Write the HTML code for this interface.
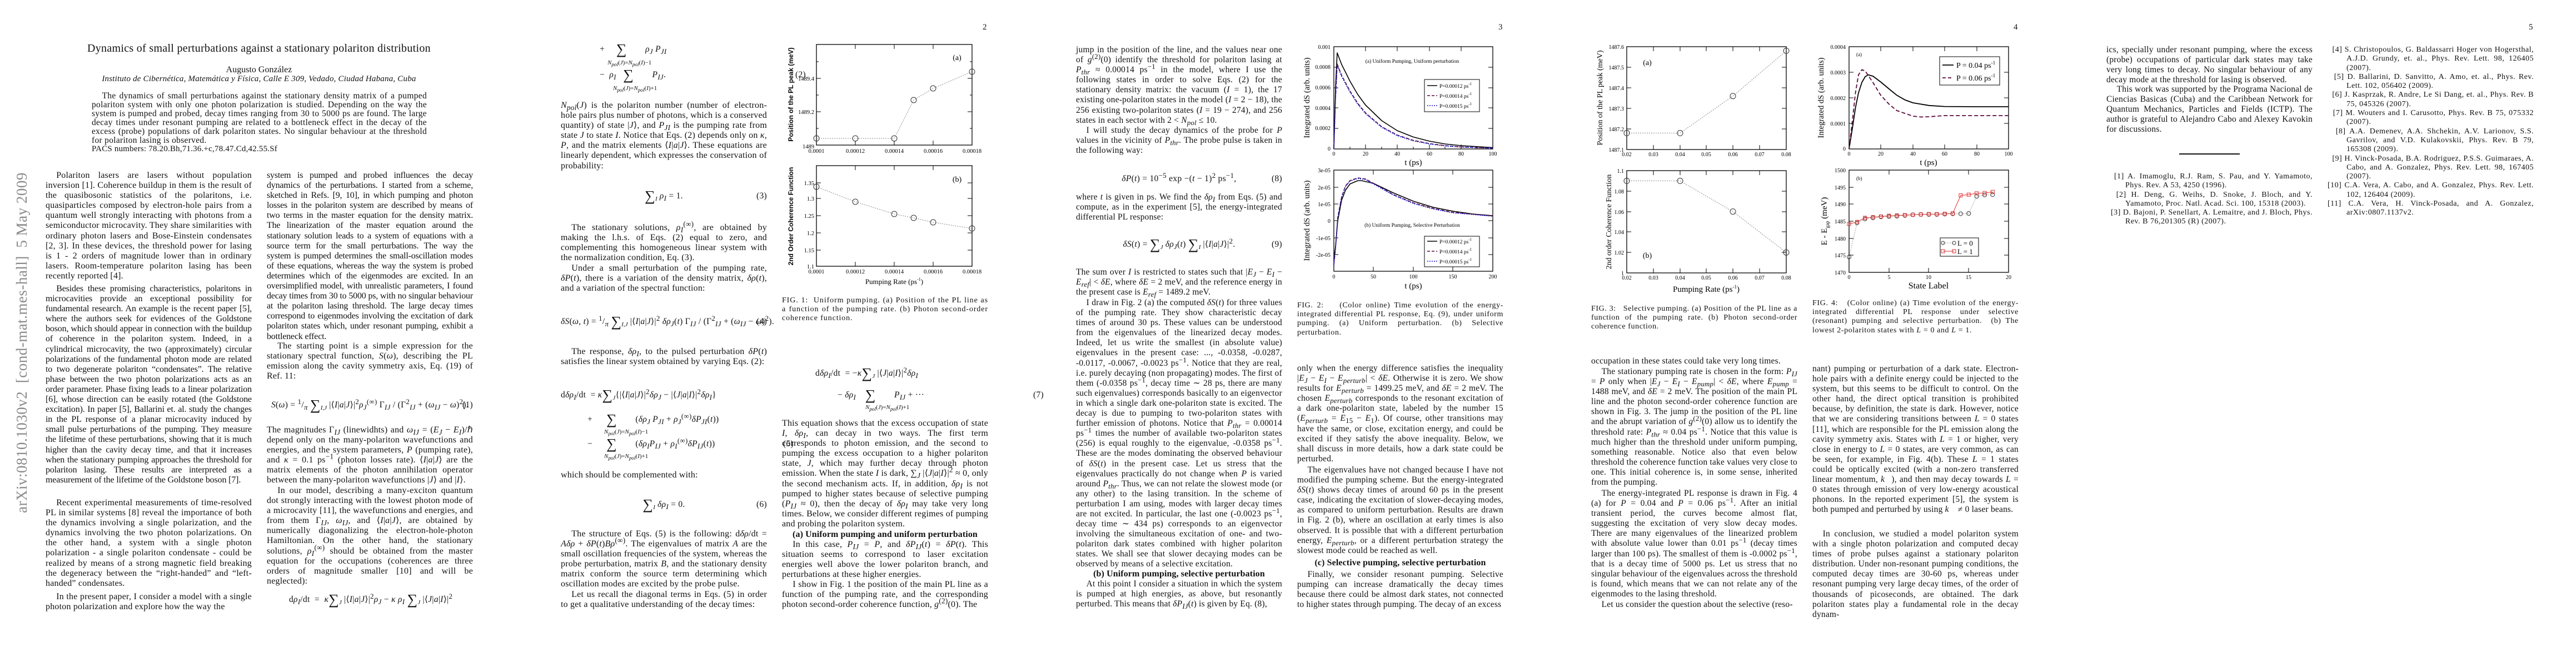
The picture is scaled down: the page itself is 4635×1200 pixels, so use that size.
<!DOCTYPE html>
<html lang="en"><head><meta charset="utf-8">
<style>
html,body{margin:0;padding:0;background:#fff}
body{width:4635px;height:1200px;position:relative;overflow:hidden;font-family:"Liberation Serif",serif;color:#111}
sub,sup{line-height:0}
.c{position:absolute;width:371px;font-size:16px;letter-spacing:0.2px;line-height:18.1px;text-align:justify;hyphens:auto;-webkit-hyphens:auto;margin:0}
.c.w{font-size:15.5px;letter-spacing:0.2px}
.i{text-indent:1.2em}
.eq{position:absolute;width:371px;font-size:15.5px;letter-spacing:0.3px;line-height:18px;text-align:center;white-space:nowrap}
.en{position:absolute;right:0;top:0}
.s{font-size:26px;vertical-align:-4px}
.sm{font-size:11px;letter-spacing:0}
.pn{position:absolute;font-size:15px}
.h{font-weight:bold;font-size:16px;letter-spacing:0.1px}
.cap{position:absolute;width:371px;font-size:14px;letter-spacing:0.6px;line-height:16.2px;text-align:justify;hyphens:auto;-webkit-hyphens:auto}
.cap.n{letter-spacing:0.9px}
.ref{position:absolute;width:371px;font-size:14px;letter-spacing:0.5px;line-height:16.3px;text-align:justify;hyphens:auto}
.ref div{padding-left:34px;text-indent:-34px}
svg text{font-family:"Liberation Serif",serif}
</style></head><body>

<div style="position:absolute;left:24px;top:923px;transform-origin:0 0;transform:rotate(-90deg);font-size:27px;color:#8a8a8a;white-space:nowrap;letter-spacing:0.5px">arXiv:0810.1030v2&nbsp; [cond-mat.mes-hall]&nbsp; 5 May 2009</div>

<!-- ============ PAGE 1 ============ -->
<div style="position:absolute;left:82px;width:768px;top:76px;text-align:center;font-size:20px;letter-spacing:0.3px">Dynamics of small perturbations against a stationary polariton distribution</div>
<div style="position:absolute;left:82px;width:768px;top:117px;text-align:center;font-size:16px">Augusto González</div>
<div style="position:absolute;left:82px;width:768px;top:134px;text-align:center;font-size:15px;font-style:italic;letter-spacing:0.2px">Instituto de Cibernética, Matemática y Física, Calle E 309, Vedado, Ciudad Habana, Cuba</div>
<div style="position:absolute;left:165px;width:603px;top:165px;font-size:15.5px;letter-spacing:0.3px;line-height:16px;text-align:justify;text-indent:1.2em;hyphens:auto">The dynamics of small perturbations against the stationary density matrix of a pumped polariton system with only one photon polarization is studied. Depending on the way the system is pumped and probed, decay times ranging from 30 to 5000 ps are found. The large decay times under resonant pumping are related to a bottleneck effect in the decay of the excess (probe) populations of dark polariton states. No singular behaviour at the threshold for polariton lasing is observed.</div>
<div style="position:absolute;left:165px;top:260px;font-size:15px;letter-spacing:0.2px">PACS numbers: 78.20.Bh,71.36.+c,78.47.Cd,42.55.Sf</div>

<p class="c i" style="left:82px;top:307px">Polariton lasers are lasers without population inversion [1]. Coherence buildup in them is the result of the quasibosonic statistics of the polaritons, i.e. quasiparticles composed by electron-hole pairs from a quantum well strongly interacting with photons from a semiconductor microcavity. They share similarities with ordinary photon lasers and Bose-Einstein condensates [2, 3]. In these devices, the threshold power for lasing is 1 - 2 orders of magnitude lower than in ordinary lasers. Room-temperature polariton lasing has been recently reported [4].</p>
<p class="c i" style="left:82px;top:511px;letter-spacing:-0.15px">Besides these promising characteristics, polaritons in microcavities provide an exceptional possibility for fundamental research. An example is the recent paper [5], where the authors seek for evidences of the Goldstone boson, which should appear in connection with the buildup of coherence in the polariton system. Indeed, in a cylindrical microcavity, the two (approximately) circular polarizations of the fundamental photon mode are related to two degenerate polariton “condensates”. The relative phase between the two photon polarizations acts as an order parameter. Phase fixing leads to a linear polarization [6], whose direction can be easily rotated (the Goldstone excitation). In paper [5], Ballarini et. al. study the changes in the PL response of a planar microcavity induced by small pulse perturbations of the pumping. They measure the lifetime of these perturbations, showing that it is much higher than the cavity decay time, and that it increases when the stationary pumping approaches the threshold for polariton lasing. These results are interpreted as a measurement of the lifetime of the Goldstone boson [7].</p>
<p class="c i" style="left:82px;top:896px">Recent experimental measurements of time-resolved PL in similar systems [8] reveal the importance of both the dynamics involving a single polarization, and the dynamics involving the two photon polarizations. On the other hand, a system with a single photon polarization - a single polariton condensate - could be realized by means of a strong magnetic field breaking the degeneracy between the “right-handed” and “left-handed” condensates.</p>
<p class="c i" style="left:82px;top:1065px">In the present paper, I consider a model with a single photon polarization and explore how the way the</p>

<p class="c" style="left:480px;top:307px;letter-spacing:-0.2px">system is pumped and probed influences the decay dynamics of the perturbations. I started from a scheme, sketched in Refs. [9, 10], in which pumping and photon losses in the polariton system are described by means of two terms in the master equation for the density matrix. The linearization of the master equation around the stationary solution leads to a system of equations with a source term for the small perturbations. The way the system is pumped determines the small-oscillation modes of these equations, whereas the way the system is probed determines which of the eigenmodes are excited. In an oversimplified model, with unrealistic parameters, I found decay times from 30 to 5000 ps, with no singular behaviour at the polariton lasing threshold. The large decay times correspond to eigenmodes involving the excitation of dark polariton states which, under resonant pumping, exhibit a bottleneck effect.</p>
<p class="c i" style="left:480px;top:614px">The starting point is a simple expression for the stationary spectral function, <i>S</i>(<i>ω</i>), describing the PL emission along the cavity symmetry axis, Eq. (19) of Ref. 11:</p>
<div class="eq" style="left:480px;top:720px"><i>S</i>(<i>ω</i>) = <sup>1</sup>/<sub><i>π</i></sub> <span class="s">∑</span><sub class="sm"><i>I,J</i></sub> |⟨<i>I</i>|<i>a</i>|<i>J</i>⟩|<sup>2</sup><i>ρ</i><sub><i>J</i></sub><sup>(∞)</sup> Γ<sub><i>IJ</i></sub> / (Γ<sup>2</sup><sub><i>IJ</i></sub> + (<i>ω<sub>IJ</sub></i> − <i>ω</i>)<sup>2</sup>).<span class="en">(1)</span></div>
<p class="c" style="left:480px;top:765px">The magnitudes Γ<sub><i>IJ</i></sub> (linewidhts) and <i>ω<sub>IJ</sub></i> = (<i>E<sub>J</sub></i> − <i>E<sub>I</sub></i>)/ℏ depend only on the many-polariton wavefunctions and energies, and the system parameters, <i>P</i> (pumping rate), and <i>κ</i> = 0.1 ps<sup>−1</sup> (photon losses rate). ⟨<i>I</i>|<i>a</i>|<i>J</i>⟩ are the matrix elements of the photon annihilation operator between the many-polariton wavefunctions |<i>J</i>⟩ and |<i>I</i>⟩.</p>
<p class="c i" style="left:480px;top:874px">In our model, describing a many-exciton quantum dot strongly interacting with the lowest photon mode of a microcavity [11], the wavefunctions and energies, and from them Γ<sub><i>IJ</i></sub>, <i>ω<sub>IJ</sub></i>, and ⟨<i>I</i>|<i>a</i>|<i>J</i>⟩, are obtained by numerically diagonalizing the electron-hole-photon Hamiltonian. On the other hand, the stationary solutions, <i>ρ</i><sub><i>I</i></sub><sup>(∞)</sup> should be obtained from the master equation for the occupations (coherences are three orders of magnitude smaller [10] and will be neglected):</p>
<div class="eq" style="left:480px;top:1070px;text-align:left;padding-left:40px">d<i>ρ<sub>I</sub></i>/dt &nbsp;= &nbsp;<i>κ</i><span class="s">∑</span><sub class="sm"><i>J</i></sub> |⟨<i>I</i>|<i>a</i>|<i>J</i>⟩|<sup>2</sup><i>ρ<sub>J</sub></i> − <i>κ ρ<sub>I</sub></i> <span class="s">∑</span><sub class="sm"><i>J</i></sub> |⟨<i>J</i>|<i>a</i>|<i>I</i>⟩|<sup>2</sup></div>

<!-- ============ PAGE 2 ============ -->
<div class="pn" style="left:1768px;top:41px">2</div>
<div class="eq" style="left:1009px;top:80px;text-align:left;padding-left:70px">+ &nbsp;&nbsp;&nbsp;&nbsp;<span class="s">∑</span> &nbsp;&nbsp;&nbsp;&nbsp;&nbsp;&nbsp;&nbsp;<i>ρ<sub>J</sub> P<sub>JI</sub></i></div>
<div class="eq sm" style="left:1009px;top:104px;text-align:left;padding-left:84px;font-size:11px"><i>N<sub>pol</sub></i>(<i>J</i>)=<i>N<sub>pol</sub></i>(<i>I</i>)−1</div>
<div class="eq" style="left:1009px;top:126px;text-align:left;padding-left:70px">− &nbsp;<i>ρ<sub>I</sub></i> &nbsp;&nbsp;<span class="s">∑</span> &nbsp;&nbsp;&nbsp;&nbsp;&nbsp;&nbsp;&nbsp;<i>P<sub>IJ</sub></i>.<span class="en">(2)</span></div>
<div class="eq sm" style="left:1009px;top:150px;text-align:left;padding-left:94px;font-size:11px"><i>N<sub>pol</sub></i>(<i>J</i>)=<i>N<sub>pol</sub></i>(<i>I</i>)+1</div>
<p class="c" style="left:1009px;top:181px"><i>N<sub>pol</sub></i>(<i>J</i>) is the polariton number (number of electron-hole pairs plus number of photons, which is a conserved quantity) of state |<i>J</i>⟩, and <i>P<sub>JI</sub></i> is the pumping rate from state <i>J</i> to state <i>I</i>. Notice that Eqs. (2) depends only on <i>κ</i>, <i>P</i>, and the matrix elements ⟨<i>I</i>|<i>a</i>|<i>J</i>⟩. These equations are linearly dependent, which expresses the conservation of probability:</p>
<div class="eq" style="left:1009px;top:344px"><span class="s">∑</span><sub class="sm"><i>I</i></sub> <i>ρ<sub>I</sub></i> = 1.<span class="en">(3)</span></div>
<p class="c i" style="left:1009px;top:401px">The stationary solutions, <i>ρ</i><sub><i>I</i></sub><sup>(∞)</sup>, are obtained by making the l.h.s. of Eqs. (2) equal to zero, and complementing this homogeneous linear system with the normalization condition, Eq. (3).</p>
<p class="c i" style="left:1009px;top:474px">Under a small perturbation of the pumping rate, <i>δP</i>(<i>t</i>), there is a variation of the density matrix, <i>δρ</i>(<i>t</i>), and a variation of the spectral function:</p>
<div class="eq" style="left:1009px;top:570px"><i>δS</i>(<i>ω, t</i>) = <sup>1</sup>/<sub><i>π</i></sub> <span class="s">∑</span><sub class="sm"><i>I,J</i></sub> |⟨<i>I</i>|<i>a</i>|<i>J</i>⟩|<sup>2</sup> <i>δρ<sub>J</sub></i>(<i>t</i>) Γ<sub><i>IJ</i></sub> / (Γ<sup>2</sup><sub><i>IJ</i></sub> + (<i>ω<sub>IJ</sub></i> − <i>ω</i>)<sup>2</sup>).<span class="en">(4)</span></div>
<p class="c i" style="left:1009px;top:624px">The response, <i>δρ<sub>I</sub></i>, to the pulsed perturbation <i>δP</i>(<i>t</i>) satisfies the linear system obtained by varying Eqs. (2):</p>
<div class="eq" style="left:1009px;top:702px;text-align:left">d<i>δρ<sub>I</sub></i>/dt &nbsp;= <i>κ</i><span class="s">∑</span><sub class="sm"><i>J</i></sub>{|⟨<i>I</i>|<i>a</i>|<i>J</i>⟩|<sup>2</sup><i>δρ<sub>J</sub></i> − |⟨<i>J</i>|<i>a</i>|<i>I</i>⟩|<sup>2</sup><i>δρ<sub>I</sub></i>}</div>
<div class="eq" style="left:1009px;top:746px;text-align:left;padding-left:48px">+ &nbsp;&nbsp;&nbsp;&nbsp;&nbsp;<span class="s">∑</span> &nbsp;&nbsp;&nbsp;&nbsp;&nbsp;&nbsp;&nbsp;(<i>δρ<sub>J</sub> P<sub>JI</sub></i> + <i>ρ</i><sub><i>J</i></sub><sup>(∞)</sup><i>δP<sub>JI</sub></i>(<i>t</i>))</div>
<div class="eq" style="left:1009px;top:768px;text-align:left;padding-left:78px;font-size:11px;letter-spacing:0"><i>N<sub>pol</sub></i>(<i>J</i>)=<i>N<sub>pol</sub></i>(<i>I</i>)−1</div>
<div class="eq" style="left:1009px;top:790px;text-align:left;padding-left:48px">− &nbsp;&nbsp;&nbsp;&nbsp;&nbsp;<span class="s">∑</span> &nbsp;&nbsp;&nbsp;&nbsp;&nbsp;&nbsp;&nbsp;(<i>δρ<sub>I</sub>P<sub>IJ</sub></i> + <i>ρ</i><sub><i>I</i></sub><sup>(∞)</sup><i>δP<sub>IJ</sub></i>(<i>t</i>))<span class="en">(5)</span></div>
<div class="eq" style="left:1009px;top:812px;text-align:left;padding-left:78px;font-size:11px;letter-spacing:0"><i>N<sub>pol</sub></i>(<i>J</i>)=<i>N<sub>pol</sub></i>(<i>I</i>)+1</div>
<p class="c" style="left:1009px;top:846px">which should be complemented with:</p>
<div class="eq" style="left:1009px;top:899px"><span class="s">∑</span><sub class="sm"><i>I</i></sub> <i>δρ<sub>I</sub></i> = 0.<span class="en">(6)</span></div>
<p class="c i" style="left:1009px;top:952px">The structure of Eqs. (5) is the following: d<i>δρ</i>/dt = <i>Aδρ</i> + <i>δP</i>(<i>t</i>)<i>Bρ</i><sup>(∞)</sup>. The eigenvalues of matrix <i>A</i> are the small oscillation frequencies of the system, whereas the probe perturbation, matrix <i>B</i>, and the stationary density matrix conform the source term determining which oscillation modes are excited by the probe pulse.</p>
<p class="c i" style="left:1009px;top:1061px">Let us recall the diagonal terms in Eqs. (5) in order to get a qualitative understanding of the decay times:</p>

<div class="cap n" style="left:1407px;top:533px">FIG. 1: &nbsp;Uniform pumping. (a) Position of the PL line as a function of the pumping rate. (b) Photon second-order coherence function.</div>
<div class="eq" style="left:1407px;top:663px;text-align:left;padding-left:60px">d<i>δρ<sub>I</sub></i>/dt &nbsp;= −<i>κ</i><span class="s">∑</span><sub class="sm"><i>J</i></sub> |⟨<i>J</i>|<i>a</i>|<i>I</i>⟩|<sup>2</sup><i>δρ<sub>I</sub></i></div>
<div class="eq" style="left:1407px;top:702px;text-align:left;padding-left:100px">− <i>δρ<sub>I</sub></i> &nbsp;&nbsp;&nbsp;<span class="s">∑</span> &nbsp;&nbsp;&nbsp;&nbsp;&nbsp;&nbsp;&nbsp;<i>P<sub>IJ</sub></i> + ···<span class="en">(7)</span></div>
<div class="eq" style="left:1407px;top:724px;text-align:left;padding-left:150px;font-size:11px;letter-spacing:0"><i>N<sub>pol</sub></i>(<i>J</i>)=<i>N<sub>pol</sub></i>(<i>I</i>)+1</div>
<p class="c" style="left:1407px;top:753px">This equation shows that the excess occupation of state <i>I</i>, <i>δρ<sub>I</sub></i>, can decay in two ways. The first term corresponds to photon emission, and the second to pumping the excess occupation to a higher polariton state, <i>J</i>, which may further decay through photon emission. When the state <i>I</i> is dark, ∑<sub><i>J</i></sub> |⟨<i>J</i>|<i>a</i>|<i>I</i>⟩|<sup>2</sup> ≈ 0, only the second mechanism acts. If, in addition, <i>δρ<sub>I</sub></i> is not pumped to higher states because of selective pumping (<i>P<sub>IJ</sub></i> ≈ 0), then the decay of <i>δρ<sub>I</sub></i> may take very long times. Below, we consider different regimes of pumping and probing the polariton system.</p>
<div class="c h" style="left:1407px;top:953px;text-align:center">(a) Uniform pumping and uniform perturbation</div>
<p class="c i" style="left:1407px;top:971px">In this case, <i>P<sub>IJ</sub></i> = <i>P</i>, and <i>δP<sub>IJ</sub></i>(<i>t</i>) = <i>δP</i>(<i>t</i>). This situation seems to correspond to laser excitation energies well above the lower polariton branch, and perturbations at these higher energies.</p>
<p class="c i" style="left:1407px;top:1043px">I show in Fig. 1 the position of the main PL line as a function of the pumping rate, and the corresponding photon second-order coherence function, <i>g</i><sup>(2)</sup>(0). The</p>

<!-- ============ PAGE 3 ============ -->
<div class="pn" style="left:2696px;top:41px">3</div>
<p class="c w" style="left:1936px;top:81px">jump in the position of the line, and the values near one of <i>g</i><sup>(2)</sup>(0) identify the threshold for polariton lasing at <i>P<sub>thr</sub></i> ≈ 0.00014 ps<sup>−1</sup> in the model, where I use the following states in order to solve Eqs. (2) for the stationary density matrix: the vacuum (<i>I</i> = 1), the 17 existing one-polariton states in the model (<i>I</i> = 2 − 18), the 256 existing two-polariton states (<i>I</i> = 19 − 274), and 256 states in each sector with 2 &lt; <i>N<sub>pol</sub></i> ≤ 10.</p>
<p class="c w i" style="left:1936px;top:226px">I will study the decay dynamics of the probe for <i>P</i> values in the vicinity of <i>P<sub>thr</sub></i>. The probe pulse is taken in the following way:</p>
<div class="eq" style="left:1936px;top:313px"><i>δP</i>(<i>t</i>) = 10<sup>−5</sup> exp −(<i>t</i> − 1)<sup>2</sup> ps<sup>−1</sup>,<span class="en">(8)</span></div>
<p class="c w" style="left:1936px;top:346px">where <i>t</i> is given in ps. We find the <i>δρ<sub>I</sub></i> from Eqs. (5) and compute, as in the experiment [5], the energy-integrated differential PL response:</p>
<div class="eq" style="left:1936px;top:431px"><i>δS</i>(<i>t</i>) = <span class="s">∑</span><sub class="sm"><i>J</i></sub> <i>δρ<sub>J</sub></i>(<i>t</i>) <span class="s">∑</span><sub class="sm"><i>I</i></sub> |⟨<i>I</i>|<i>a</i>|<i>J</i>⟩|<sup>2</sup>.<span class="en">(9)</span></div>
<p class="c w" style="left:1936px;top:481px">The sum over <i>I</i> is restricted to states such that |<i>E<sub>J</sub></i> − <i>E<sub>I</sub></i> − <i>E<sub>ref</sub></i>| &lt; <i>δE</i>, where <i>δE</i> = 2 meV, and the reference energy in the present case is <i>E<sub>ref</sub></i> = 1489.2 meV.</p>
<p class="c w i" style="left:1936px;top:536px">I draw in Fig. 2 (a) the computed <i>δS</i>(<i>t</i>) for three values of the pumping rate. They show characteristic decay times of around 30 ps. These values can be understood from the eigenvalues of the linearized decay modes. Indeed, let us write the smallest (in absolute value) eigenvalues in the present case: ..., -0.0358, -0.0287, -0.0117, -0.0067, -0.0023 ps<sup>−1</sup>. Notice that they are real, i.e. purely decaying (non propagating) modes. The first of them (-0.0358 ps<sup>−1</sup>, decay time ∼ 28 ps, there are many such eigenvalues) corresponds basically to an eigenvector in which a single dark one-polariton state is excited. The decay is due to pumping to two-polariton states with further emission of photons. Notice that <i>P<sub>thr</sub></i> = 0.00014 ps<sup>−1</sup> times the number of available two-polariton states (256) is equal roughly to the eigenvalue, -0.0358 ps<sup>−1</sup>. These are the modes dominating the observed behaviour of <i>δS</i>(<i>t</i>) in the present case. Let us stress that the eigenvalues practically do not change when <i>P</i> is varied around <i>P<sub>thr</sub></i>. Thus, we can not relate the slowest mode (or any other) to the lasing transition. In the scheme of perturbation I am using, modes with larger decay times are not excited. In particular, the last one (-0.0023 ps<sup>−1</sup>, decay time ∼ 434 ps) corresponds to an eigenvector involving the simultaneous excitation of one- and two-polariton dark states combined with higher polariton states. We shall see that slower decaying modes can be observed by means of a selective excitation.</p>
<div class="c h" style="left:1936px;top:1024px;text-align:center">(b) Uniform pumping, selective perturbation</div>
<p class="c w i" style="left:1936px;top:1042px">At this point I consider a situation in which the system is pumped at high energies, as above, but resonantly perturbed. This means that <i>δP<sub>IJ</sub></i>(<i>t</i>) is given by Eq. (8),</p>

<div class="cap" style="left:2334px;top:542px">FIG. 2: &nbsp;&nbsp;&nbsp;(Color online) Time evolution of the energy-integrated differential PL response, Eq. (9), under uniform pumping. (a) Uniform perturbation. (b) Selective perturbation.</div>
<p class="c w" style="left:2334px;top:654px">only when the energy difference satisfies the inequality |<i>E<sub>J</sub></i> − <i>E<sub>I</sub></i> − <i>E<sub>perturb</sub></i>| &lt; <i>δE</i>. Otherwise it is zero. We show results for <i>E<sub>perturb</sub></i> = 1499.25 meV, and <i>δE</i> = 2 meV. The chosen <i>E<sub>perturb</sub></i> corresponds to the resonant excitation of a dark one-polariton state, labeled by the number 15 (<i>E<sub>perturb</sub></i> = <i>E</i><sub>15</sub> − <i>E</i><sub>1</sub>). Of course, other transitions may have the same, or close, excitation energy, and could be excited if they satisfy the above inequality. Below, we shall discuss in more details, how a dark state could be perturbed.</p>
<p class="c w i" style="left:2334px;top:837px">The eigenvalues have not changed because I have not modified the pumping scheme. But the energy-integrated <i>δS</i>(<i>t</i>) shows decay times of around 60 ps in the present case, indicating the excitation of slower-decaying modes, as compared to uniform perturbation. Results are drawn in Fig. 2 (b), where an oscillation at early times is also observed. It is possible that with a different perturbation energy, <i>E<sub>perturb</sub></i>, or a different perturbation strategy the slowest mode could be reached as well.</p>
<div class="c h" style="left:2334px;top:1004px;text-align:center">(c) Selective pumping, selective perturbation</div>
<p class="c w i" style="left:2334px;top:1025px">Finally, we consider resonant pumping. Selective pumping can increase dramatically the decay times because there could be almost dark states, not connected to higher states through pumping. The decay of an excess</p>

<!-- ============ PAGE 4 ============ -->
<div class="pn" style="left:3623px;top:41px">4</div>
<div class="cap" style="left:2863px;top:548px">FIG. 3: &nbsp;&nbsp;Selective pumping. (a) Position of the PL line as a function of the pumping rate. (b) Photon second-order coherence function.</div>
<p class="c w" style="left:2863px;top:641px">occupation in these states could take very long times.</p>
<p class="c w i" style="left:2863px;top:660px">The stationary pumping rate is chosen in the form: <i>P<sub>IJ</sub></i> = <i>P</i> only when |<i>E<sub>J</sub></i> − <i>E<sub>I</sub></i> − <i>E<sub>pump</sub></i>| &lt; <i>δE</i>, where <i>E<sub>pump</sub></i> = 1488 meV, and <i>δE</i> = 2 meV. The position of the main PL line and the photon second-order coherence function are shown in Fig. 3. The jump in the position of the PL line and the abrupt variation of <i>g</i><sup>(2)</sup>(0) allow us to identify the threshold rate: <i>P<sub>thr</sub></i> ≈ 0.04 ps<sup>−1</sup>. Notice that this value is much higher than the threshold under uniform pumping, something reasonable. Notice also that even below threshold the coherence function take values very close to one. This initial coherence is, in some sense, inherited from the pumping.</p>
<p class="c w i" style="left:2863px;top:879px">The energy-integrated PL response is drawn in Fig. 4 (a) for <i>P</i> = 0.04 and <i>P</i> = 0.06 ps<sup>−1</sup>. After an initial transient period, the curves become almost flat, suggesting the excitation of very slow decay modes. There are many eigenvalues of the linearized problem with absolute value lower than 0.01 ps<sup>−1</sup> (decay times larger than 100 ps). The smallest of them is -0.0002 ps<sup>−1</sup>, that is a decay time of 5000 ps. Let us stress that no singular behaviour of the eigenvalues across the threshold is found, which means that we can not relate any of the eigenmodes to the lasing threshold.</p>
<p class="c w i" style="left:2863px;top:1079px">Let us consider the question about the selective (reso-</p>

<div class="cap" style="left:3261px;top:538px">FIG. 4: &nbsp;&nbsp;(Color online) (a) Time evolution of the energy-integrated differential PL response under selective (resonant) pumping and selective perturbation. &nbsp;(b) The lowest 2-polariton states with <i>L</i> = 0 and <i>L</i> = 1.</div>
<p class="c w" style="left:3261px;top:655px">nant) pumping or perturbation of a dark state. Electron-hole pairs with a definite energy could be injected to the system, but this seems to be difficult to control. On the other hand, the direct optical transition is prohibited because, by definition, the state is dark. However, notice that we are considering transitions between <i>L</i> = 0 states [11], which are responsible for the PL emission along the cavity symmetry axis. States with <i>L</i> = 1 or higher, very close in energy to <i>L</i> = 0 states, are very common, as can be seen, for example, in Fig. 4(b). These <i>L</i> = 1 states could be optically excited (with a non-zero transferred linear momentum, <i>k⃗</i>), and then may decay towards <i>L</i> = 0 states through emission of very low-energy acoustical phonons. In the reported experiment [5], the system is both pumped and perturbed by using <i>k⃗</i> ≠ 0 laser beans.</p>
<p class="c w i" style="left:3261px;top:952px">In conclusion, we studied a model polariton system with a single photon polarization and computed decay times of probe pulses against a stationary polariton distribution. Under non-resonant pumping conditions, the computed decay times are 30-60 ps, whereas under resonant pumping very large decay times, of the order of thousands of picoseconds, are obtained. The dark polariton states play a fundamental role in the decay dynam-</p>

<!-- ============ PAGE 5 ============ -->
<div class="pn" style="left:4550px;top:41px">5</div>
<p class="c w" style="left:3790px;top:81px">ics, specially under resonant pumping, where the excess (probe) occupations of particular dark states may take very long times to decay. No singular behaviour of any decay mode at the threshold for lasing is observed.</p>
<p class="c w i" style="left:3790px;top:152px">This work was supported by the Programa Nacional de Ciencias Basicas (Cuba) and the Caribbean Network for Quantum Mechanics, Particles and Fields (ICTP). The author is grateful to Alejandro Cabo and Alexey Kavokin for discussions.</p>
<div style="position:absolute;left:3921px;top:276px;width:109px;height:1.5px;background:#111"></div>
<div class="ref" style="left:3790px;top:310px">
<div>&nbsp;&nbsp;[1] A. Imamoglu, R.J. Ram, S. Pau, and Y. Yamamoto, Phys. Rev. A 53, 4250 (1996).</div>
<div>&nbsp;&nbsp;[2] H. Deng, G. Weihs, D. Snoke, J. Bloch, and Y. Yamamoto, Proc. Natl. Acad. Sci. 100, 15318 (2003).</div>
<div>&nbsp;&nbsp;[3] D. Bajoni, P. Senellart, A. Lemaitre, and J. Bloch, Phys. Rev. B 76,201305 (R) (2007).</div>
</div>
<div class="ref" style="left:4188px;top:82px">
<div>&nbsp;&nbsp;[4] S. Christopoulos, G. Baldassarri Hoger von Hogersthal, A.J.D. Grundy, et. al., Phys. Rev. Lett. 98, 126405 (2007).</div>
<div>&nbsp;&nbsp;[5] D. Ballarini, D. Sanvitto, A. Amo, et. al., Phys. Rev. Lett. 102, 056402 (2009).</div>
<div>&nbsp;&nbsp;[6] J. Kasprzak, R. Andre, Le Si Dang, et. al., Phys. Rev. B 75, 045326 (2007).</div>
<div>&nbsp;&nbsp;[7] M. Wouters and I. Carusotto, Phys. Rev. B 75, 075332 (2007).</div>
<div>&nbsp;&nbsp;[8] A.A. Demenev, A.A. Shchekin, A.V. Larionov, S.S. Gavrilov, and V.D. Kulakovskii, Phys. Rev. B 79, 165308 (2009).</div>
<div>&nbsp;&nbsp;[9] H. Vinck-Posada, B.A. Rodriguez, P.S.S. Guimaraes, A. Cabo, and A. Gonzalez, Phys. Rev. Lett. 98, 167405 (2007).</div>
<div>[10] C.A. Vera, A. Cabo, and A. Gonzalez, Phys. Rev. Lett. 102, 126404 (2009).</div>
<div>[11] C.A. Vera, H. Vinck-Posada, and A. Gonzalez, arXiv:0807.1137v2.</div>
</div>

<!-- ============ FIGURES ============ -->
<svg style="position:absolute;left:0;top:0" width="4635" height="1200" viewBox="0 0 4635 1200">
<g fill="none" stroke="#000" stroke-width="1.3">
<rect x="1469" y="80" width="280" height="181"/>
<rect x="1469" y="298" width="280" height="181"/>
<rect x="2400" y="84" width="286" height="184"/>
<rect x="2400" y="306" width="286" height="182"/>
<rect x="2927" y="84" width="287" height="185"/>
<rect x="2927" y="307" width="287" height="184"/>
<rect x="3327" y="84" width="287" height="184"/>
<rect x="3327" y="306" width="287" height="184"/>
</g>
<g stroke="#000" stroke-width="1">
<path d="M1539 261v-8M1609 261v-8M1679 261v-8M1539 80v8M1609 80v8M1679 80v8M1469 201h8M1469 141h8M1749 201h-8M1749 141h-8M1469 231h4M1469 171h4M1469 111h4M1749 231h-4M1749 171h-4M1749 111h-4"/>
<path d="M1539 479v-8M1609 479v-8M1679 479v-8M1539 298v8M1609 298v8M1679 298v8M1469 450h8M1469 419h8M1469 388h8M1469 357h8M1469 329h8M1749 450h-8M1749 419h-8M1749 388h-8M1749 357h-8M1749 329h-8"/>
<path d="M2457 268v-8M2514 268v-8M2572 268v-8M2629 268v-8M2457 84v8M2514 84v8M2572 84v8M2629 84v8M2400 231h8M2400 194h8M2400 158h8M2400 121h8M2686 231h-8M2686 194h-8M2686 158h-8M2686 121h-8M2429 268v-4M2486 268v-4M2543 268v-4M2600 268v-4M2657 268v-4"/>
<path d="M2471 488v-8M2543 488v-8M2614 488v-8M2471 306v8M2543 306v8M2614 306v8M2400 458h8M2400 428h8M2400 397h8M2400 367h8M2400 337h8M2686 458h-8M2686 428h-8M2686 397h-8M2686 367h-8M2686 337h-8"/>
<path d="M2975 269v-8M3023 269v-8M3070 269v-8M3118 269v-8M3166 269v-8M2975 84v8M3023 84v8M3070 84v8M3118 84v8M3166 84v8M2927 232h8M2927 195h8M2927 158h8M2927 121h8M3214 232h-8M3214 195h-8M3214 158h-8M3214 121h-8"/>
<path d="M2975 491v-8M3023 491v-8M3070 491v-8M3118 491v-8M3166 491v-8M2975 307v8M3023 307v8M3070 307v8M3118 307v8M3166 307v8M2927 454h8M2927 417h8M2927 381h8M2927 344h8M3214 454h-8M3214 417h-8M3214 381h-8M3214 344h-8"/>
<path d="M3384 268v-8M3442 268v-8M3499 268v-8M3557 268v-8M3384 84v8M3442 84v8M3499 84v8M3557 84v8M3327 222h8M3327 176h8M3327 130h8M3614 222h-8M3614 176h-8M3614 130h-8"/>
<path d="M3399 490v-8M3470 490v-8M3542 490v-8M3399 306v8M3470 306v8M3542 306v8M3327 459h8M3327 429h8M3327 398h8M3327 367h8M3327 337h8M3614 459h-8M3614 429h-8M3614 398h-8M3614 367h-8M3614 337h-8"/>
</g>

<g font-size="10.5" text-anchor="middle">
<text x="1469" y="275">0.0001</text><text x="1539" y="275">0.00012</text><text x="1609" y="275">0.00014</text><text x="1679" y="275">0.00016</text><text x="1749" y="275">0.00018</text>
<text x="1469" y="492">0.0001</text><text x="1539" y="492">0.00012</text><text x="1609" y="492">0.00014</text><text x="1679" y="492">0.00016</text><text x="1749" y="492">0.00018</text>
</g>
<g font-size="10.5" text-anchor="end">
<text x="1465" y="145">1489.4</text><text x="1465" y="205">1489.2</text><text x="1465" y="267">1489</text>
<text x="1465" y="333">1.35</text><text x="1465" y="361">1.3</text><text x="1465" y="392">1.25</text><text x="1465" y="423">1.2</text><text x="1465" y="454">1.15</text><text x="1465" y="483">1.1</text>
</g>
<text x="1722" y="108" font-size="14" text-anchor="middle">(a)</text>
<text x="1722" y="327" font-size="14" text-anchor="middle">(b)</text>
<text transform="translate(1427,170) rotate(-90)" font-weight="bold" font-size="12" text-anchor="middle" style="font-family:'Liberation Sans',sans-serif">Position of the PL peak (meV)</text>
<text transform="translate(1427,389) rotate(-90)" font-weight="bold" font-size="12" text-anchor="middle" style="font-family:'Liberation Sans',sans-serif">2nd Order Coherence Function</text>
<text x="1609" y="511" font-size="13" text-anchor="middle">Pumping Rate (ps<tspan font-size="8" dy="-6">-1</tspan><tspan dy="6">)</tspan></text>
<g fill="none" stroke="#888" stroke-width="1" stroke-dasharray="2,2">
<polyline points="1469,249 1539,249 1609,249 1644,180 1679,159 1749,129"/>
<polyline points="1469,336 1539,363 1609,385 1644,392 1679,400 1749,411"/>
</g>
<g fill="none" stroke="#333" stroke-width="1">
<circle cx="1469" cy="249" r="5"/><circle cx="1539" cy="249" r="5"/><circle cx="1609" cy="249" r="5"/><circle cx="1644" cy="180" r="5"/><circle cx="1679" cy="159" r="5"/><circle cx="1749" cy="129" r="5"/>
<circle cx="1469" cy="336" r="5"/><circle cx="1539" cy="363" r="5"/><circle cx="1609" cy="385" r="5"/><circle cx="1644" cy="392" r="5"/><circle cx="1679" cy="400" r="5"/><circle cx="1749" cy="411" r="5"/>
</g>

<g font-size="10" text-anchor="middle">
<text x="2400" y="280">0</text><text x="2457" y="280">20</text><text x="2514" y="280">40</text><text x="2572" y="280">60</text><text x="2629" y="280">80</text><text x="2686" y="280">100</text>
<text x="2400" y="501">0</text><text x="2471" y="501">50</text><text x="2543" y="501">100</text><text x="2614" y="501">150</text><text x="2686" y="501">200</text>
</g>
<g font-size="10" text-anchor="end">
<text x="2394" y="88">0.001</text><text x="2394" y="124">0.0008</text><text x="2394" y="161">0.0006</text><text x="2394" y="198">0.0004</text><text x="2394" y="234">0.0002</text><text x="2394" y="271">0</text>
<text x="2394" y="310">3e-05</text><text x="2394" y="341">2e-05</text><text x="2394" y="371">1e-05</text><text x="2394" y="401">0</text><text x="2394" y="432">-1e-05</text><text x="2394" y="462">-2e-05</text>
</g>
<text x="2543" y="297" font-size="15" text-anchor="middle">t (ps)</text>
<text x="2543" y="519" font-size="15" text-anchor="middle">t (ps)</text>
<text transform="translate(2356,176) rotate(-90)" font-size="14.5" text-anchor="middle">Integrated dS (arb. units)</text>
<text transform="translate(2356,397) rotate(-90)" font-size="14.5" text-anchor="middle">Integrated dS (arb. units)</text>
<text x="2541" y="113" font-size="9.5" text-anchor="middle">(a) Uniform Pumping, Uniform perturbation</text>
<text x="2541" y="408" font-size="9.5" text-anchor="middle">(b) Uniform Pumping, Selective Perturbation</text>
<g fill="none" stroke-width="1.6" stroke-linejoin="round">
<polyline stroke="#000" points="2400,268 2403,158 2406,95 2414,116 2429,146 2443,170 2457,189 2486,217 2514,235 2543,246.5 2572,254 2600,259 2629,262 2686,265.6"/>
<polyline stroke="#5a0a3c" stroke-dasharray="6,3" points="2400,268 2403,176 2406,115 2414,135.6 2429,163.7 2443,185.8 2457,203 2486,228 2514,243 2543,252.5 2572,258.3 2600,262 2629,264.3 2686,266.6"/>
<polyline stroke="#1a1acc" stroke-dasharray="2,2" points="2400,268 2403,178 2406,117 2414,137.5 2429,165.5 2443,187.5 2457,204.5 2486,229 2514,244 2543,253.5 2572,259 2600,262.5 2629,264.6 2686,266.8"/>
<polyline stroke="#000" points="2400,467 2403,443 2407,397 2414,360 2421,342 2429,331 2443,325 2450,325 2471.5,330 2507,347 2543,362 2579,373 2614.5,380 2650,385 2686,388"/>
<polyline stroke="#5a0a3c" stroke-dasharray="6,3" points="2400,476 2403,446 2407,391 2414,354 2421,334.5 2429,325 2443,320 2457,322 2471.5,330 2507,350 2543,365 2579,375 2614.5,382 2686,388.5"/>
<polyline stroke="#1a1acc" stroke-dasharray="2,2" points="2400,478 2403,448 2407,392 2414,355 2421,335.5 2429,326 2443,321 2457,323 2471.5,331 2507,351 2543,366 2579,376 2614.5,383 2686,389"/>
</g>
<g fill="#fff" stroke="#000" stroke-width="1"><rect x="2563" y="143" width="99" height="58"/><rect x="2563" y="425" width="99" height="55"/></g>
<g stroke-width="1.6">
<path d="M2568 154h18" stroke="#000"/><path d="M2568 172h18" stroke="#5a0a3c" stroke-dasharray="5,3"/><path d="M2568 190h18" stroke="#1a1acc" stroke-dasharray="2,2"/>
<path d="M2568 434h18" stroke="#000"/><path d="M2568 452h18" stroke="#5a0a3c" stroke-dasharray="5,3"/><path d="M2568 470h18" stroke="#1a1acc" stroke-dasharray="2,2"/>
</g>
<g font-size="9.5">
<text x="2590" y="158">P=0.00012 ps<tspan font-size="7" dy="-5">-1</tspan></text>
<text x="2590" y="176">P=0.00014 ps<tspan font-size="7" dy="-5">-1</tspan></text>
<text x="2590" y="194">P=0.00015 ps<tspan font-size="7" dy="-5">-1</tspan></text>
<text x="2590" y="438">P=0.00012 ps<tspan font-size="7" dy="-5">-1</tspan></text>
<text x="2590" y="456">P=0.00014 ps<tspan font-size="7" dy="-5">-1</tspan></text>
<text x="2590" y="474">P=0.00015 ps<tspan font-size="7" dy="-5">-1</tspan></text>
</g>

<g font-size="10" text-anchor="middle">
<text x="2927" y="281">0.02</text><text x="2975" y="281">0.03</text><text x="3023" y="281">0.04</text><text x="3070" y="281">0.05</text><text x="3118" y="281">0.06</text><text x="3166" y="281">0.07</text><text x="3214" y="281">0.08</text>
<text x="2927" y="503">0.02</text><text x="2975" y="503">0.03</text><text x="3023" y="503">0.04</text><text x="3070" y="503">0.05</text><text x="3118" y="503">0.06</text><text x="3166" y="503">0.07</text><text x="3214" y="503">0.08</text>
</g>
<g font-size="10" text-anchor="end">
<text x="2922" y="88">1487.6</text><text x="2922" y="125">1487.5</text><text x="2922" y="162">1487.4</text><text x="2922" y="199">1487.3</text><text x="2922" y="236">1487.2</text><text x="2922" y="273">1487.1</text>
<text x="2922" y="311">1.1</text><text x="2922" y="348">1.08</text><text x="2922" y="385">1.06</text><text x="2922" y="421">1.04</text><text x="2922" y="458">1.02</text><text x="2922" y="495">1</text>
</g>
<text x="2964" y="117" font-size="14" text-anchor="middle">(a)</text>
<text x="2964" y="464" font-size="14" text-anchor="middle">(b)</text>
<text transform="translate(2883,176) rotate(-90)" font-size="14" text-anchor="middle">Position of the PL peak (meV)</text>
<text transform="translate(2899,399) rotate(-90)" font-size="14" text-anchor="middle">2nd order Coherence Function</text>
<text x="3070" y="525" font-size="15" text-anchor="middle">Pumping Rate (ps<tspan font-size="9" dy="-6">-1</tspan><tspan dy="6">)</tspan></text>
<g fill="none" stroke="#888" stroke-width="1" stroke-dasharray="2,2">
<polyline points="2927,239.4 3023,239.4 3118,172.8 3214,91.4"/>
<polyline points="2927,325.4 3023,325.4 3118,380.6 3214,454.2"/>
</g>
<g fill="none" stroke="#333" stroke-width="1">
<circle cx="2927" cy="239.4" r="5"/><circle cx="3023" cy="239.4" r="5"/><circle cx="3118" cy="172.8" r="5"/><circle cx="3214" cy="91.4" r="5"/>
<circle cx="2927" cy="325.4" r="5"/><circle cx="3023" cy="325.4" r="5"/><circle cx="3118" cy="380.6" r="5"/><circle cx="3214" cy="454.2" r="5"/>
</g>

<g font-size="10" text-anchor="middle">
<text x="3327" y="280">0</text><text x="3384" y="280">20</text><text x="3442" y="280">40</text><text x="3499" y="280">60</text><text x="3557" y="280">80</text><text x="3614" y="280">100</text>
<text x="3327" y="502">0</text><text x="3399" y="502">5</text><text x="3470" y="502">10</text><text x="3542" y="502">15</text><text x="3614" y="502">20</text>
</g>
<g font-size="10" text-anchor="end">
<text x="3321" y="88">0.0004</text><text x="3321" y="134">0.0003</text><text x="3321" y="180">0.0002</text><text x="3321" y="226">0.0001</text><text x="3321" y="271">0</text>
<text x="3321" y="310">1500</text><text x="3321" y="341">1495</text><text x="3321" y="371">1490</text><text x="3321" y="402">1485</text><text x="3321" y="433">1480</text><text x="3321" y="463">1475</text><text x="3321" y="494">1470</text>
</g>
<text x="3340" y="101" font-size="9">(a)</text>
<text x="3340" y="324" font-size="9">(b)</text>
<text x="3470" y="297" font-size="15" text-anchor="middle">t (ps)</text>
<text x="3470" y="519" font-size="16" text-anchor="middle">State Label</text>
<text transform="translate(3281,176) rotate(-90)" font-size="14.5" text-anchor="middle">Integrated dS (arb. units)</text>
<text transform="translate(3287,398) rotate(-90)" font-size="15" text-anchor="middle">E - E<tspan font-size="9" dy="4">gap</tspan><tspan dy="-4"> (meV)</tspan></text>
<g fill="none" stroke-width="1.8" stroke-linejoin="round">
<polyline stroke="#000" points="3327,268 3333,231 3338.5,194 3344,167 3350,148.4 3356,138 3361.5,134.6 3370,137 3384,147.5 3399,160 3413,171.4 3427.5,179.7 3442,185 3471,189.8 3499,191.6 3557,192 3614,192"/>
<polyline stroke="#5a0a3c" stroke-dasharray="7,4" points="3327,268 3333,217 3338.5,167 3344,134.6 3350,125.4 3356,127.7 3370,148.4 3384,171.4 3399,187.5 3413,199 3442,209 3456,210.5 3471,210 3499,208 3557,208 3614,208"/>
</g>
<g fill="none" stroke="#999" stroke-width="1" stroke-dasharray="2,2">
<polyline points="3327,462.4 3341.4,401.1 3355.7,393.8 3370.1,391.9 3384.4,390.1 3398.8,389.5 3413.1,388.9 3427.5,387.6 3441.8,386.4 3456.2,385.8 3470.5,385.8 3484.9,385.8 3499.2,385.2 3513.6,384.6 3527.9,384.6 3542.3,384 3556.6,353.3 3571,350.8 3585.3,350.2"/>
</g>
<polyline fill="none" stroke="#e03030" stroke-width="1" points="3327,403 3341.4,399.3 3355.7,391.9 3370.1,390.7 3384.4,389.5 3398.8,388.2 3413.1,387.6 3427.5,387 3441.8,386.4 3456.2,385.8 3470.5,385.2 3484.9,385.2 3499.2,384.6 3513.6,384 3527.9,351.5 3542.3,350.2 3556.6,347.8 3571,347.2 3585.3,345.3"/>
<g fill="none" stroke="#333" stroke-width="1">
<circle cx="3327" cy="462.4" r="3.5"/><circle cx="3341.4" cy="401.1" r="3.5"/><circle cx="3355.7" cy="393.8" r="3.5"/><circle cx="3370.1" cy="391.9" r="3.5"/><circle cx="3384.4" cy="390.1" r="3.5"/><circle cx="3398.8" cy="389.5" r="3.5"/><circle cx="3413.1" cy="388.9" r="3.5"/><circle cx="3427.5" cy="387.6" r="3.5"/><circle cx="3441.8" cy="386.4" r="3.5"/><circle cx="3456.2" cy="385.8" r="3.5"/><circle cx="3470.5" cy="385.8" r="3.5"/><circle cx="3484.9" cy="385.8" r="3.5"/><circle cx="3499.2" cy="385.2" r="3.5"/><circle cx="3513.6" cy="384.6" r="3.5"/><circle cx="3527.9" cy="384.6" r="3.5"/><circle cx="3542.3" cy="384" r="3.5"/><circle cx="3556.6" cy="353.3" r="3.5"/><circle cx="3571" cy="350.8" r="3.5"/><circle cx="3585.3" cy="350.2" r="3.5"/>
</g>
<g fill="none" stroke="#e03030" stroke-width="1">
<rect x="3324" y="400" width="6" height="6"/><rect x="3338.4" y="396.3" width="6" height="6"/><rect x="3352.7" y="388.9" width="6" height="6"/><rect x="3367.1" y="387.7" width="6" height="6"/><rect x="3381.4" y="386.5" width="6" height="6"/><rect x="3395.8" y="385.2" width="6" height="6"/><rect x="3410.1" y="384.6" width="6" height="6"/><rect x="3424.5" y="384" width="6" height="6"/><rect x="3438.8" y="383.4" width="6" height="6"/><rect x="3453.2" y="382.8" width="6" height="6"/><rect x="3467.5" y="382.2" width="6" height="6"/><rect x="3481.9" y="382.2" width="6" height="6"/><rect x="3496.2" y="381.6" width="6" height="6"/><rect x="3510.6" y="381" width="6" height="6"/><rect x="3524.9" y="348.5" width="6" height="6"/><rect x="3539.3" y="347.2" width="6" height="6"/><rect x="3553.6" y="344.8" width="6" height="6"/><rect x="3568" y="344.2" width="6" height="6"/><rect x="3582.3" y="342.3" width="6" height="6"/>
</g>
<g fill="#fff" stroke="#000" stroke-width="1"><rect x="3490" y="102" width="108" height="51"/><rect x="3491" y="428" width="69" height="33"/></g>
<path d="M3495 117h20" stroke="#000" stroke-width="1.8"/>
<path d="M3495 140h20" stroke="#5a0a3c" stroke-width="1.8" stroke-dasharray="6,4"/>
<text x="3520" y="122" font-size="14">P = 0.04 ps<tspan font-size="9" dy="-6">-1</tspan></text>
<text x="3520" y="145" font-size="14">P = 0.06 ps<tspan font-size="9" dy="-6">-1</tspan></text>
<path d="M3496 437h20" stroke="#999" stroke-dasharray="2,2"/><circle cx="3496" cy="437" r="3" fill="none" stroke="#333"/><circle cx="3516" cy="437" r="3" fill="none" stroke="#333"/>
<path d="M3496 452h20" stroke="#e03030"/><rect x="3493" y="449" width="6" height="6" fill="none" stroke="#e03030"/><rect x="3513" y="449" width="6" height="6" fill="none" stroke="#e03030"/>
<text x="3522" y="442" font-size="13">L = 0</text>
<text x="3522" y="457" font-size="13">L = 1</text>
</svg>
</body></html>
